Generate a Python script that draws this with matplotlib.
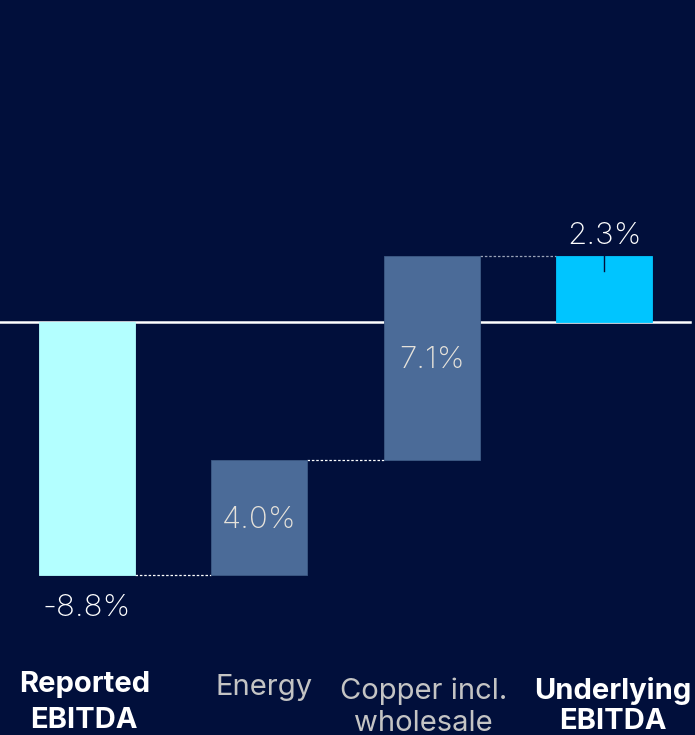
import matplotlib.pyplot as plt
import numpy as np

categories = ["Reported\nEBITDA", "Energy", "Copper incl.\nwholesale", "Underlying\nEBITDA"]
changes = [-8.8, 4.0, 7.1, 2.3]
is_total = [True, False, False, True]
value_labels = ["-8.8%", "4.0%", "7.1%", "2.3%"]

bg = "#010f3b"
bar_colors = ["#b3ffff", "#4b6b98", "#4b6b98", "#00c5ff"]
edge_colors = ["#b3ffff", "#3d5a85", "#3d5a85", "#00c5ff"]
label_colors = ["white", "#c4c4c4", "#c4c4c4", "white"]
label_weights = ["bold", "normal", "normal", "bold"]

# running totals -> bottoms/tops for the waterfall
bottoms, tops = [], []
running = 0.0
for v, tot in zip(changes, is_total):
    if tot:
        bottoms.append(0.0)
        tops.append(v)
        running = v
    else:
        bottoms.append(running)
        running += v
        tops.append(running)

fig = plt.figure(figsize=(6.95, 7.35), dpi=100, facecolor=bg)
ax = fig.add_axes([0, 0, 1, 1])
ax.set_facecolor(bg)
ax.set_xlim(-0.504, 3.525)
ax.set_ylim(-14.37, 11.2)
ax.axis("off")

x = np.arange(len(categories))
w = 0.557

ax.plot([-0.504, 3.497], [0, 0], color="white", lw=1.8, zorder=1)

heights = [t - b for b, t in zip(bottoms, tops)]
ax.bar(x, heights, bottom=bottoms, width=w, color=bar_colors,
       edgecolor=edge_colors, linewidth=0.6, zorder=2)

# dotted connectors at the running total
for i in range(len(x) - 1):
    level = bottoms[i + 1] if not is_total[i + 1] else tops[i + 1]
    col = "#9aa3b8" if i == 2 else "white"
    ax.plot([x[i] + w / 2, x[i + 1] - w / 2], [level, level], color=col,
            lw=0.9, ls=(0, (2, 1.5)), zorder=1)

# small notch on the last bar
ax.plot([x[3], x[3]], [tops[3], tops[3] - 0.52], color=bg, lw=1.0, zorder=3)

font = "Inter"
for i in range(len(x)):
    if i == 0:
        ypos, col = -9.95, "white"
    elif i == 3:
        ypos, col = 3.0, "white"
    else:
        ypos, col = (bottoms[i] + tops[i]) / 2 - 0.08, "#e6e2da"
    ax.text(x[i], ypos, value_labels[i], ha="center", va="center", color=col,
            fontsize=22.5, family=font, fontweight="light", zorder=4)

# category labels, one line at a time
line_y = [(-12.62, -13.87), (-12.73,), (-12.85, -13.97), (-12.85, -13.9)]
x_shift = [-0.015, 0.025, -0.05, 0.05]
for i, lab in enumerate(categories):
    for line, yy in zip(lab.split("\n"), line_y[i]):
        ax.text(x[i] + x_shift[i], yy, line, ha="center", va="center",
                color=label_colors[i], fontsize=21, family=font,
                fontweight=label_weights[i])

fig.savefig("out.png", dpi=100, facecolor=bg)
